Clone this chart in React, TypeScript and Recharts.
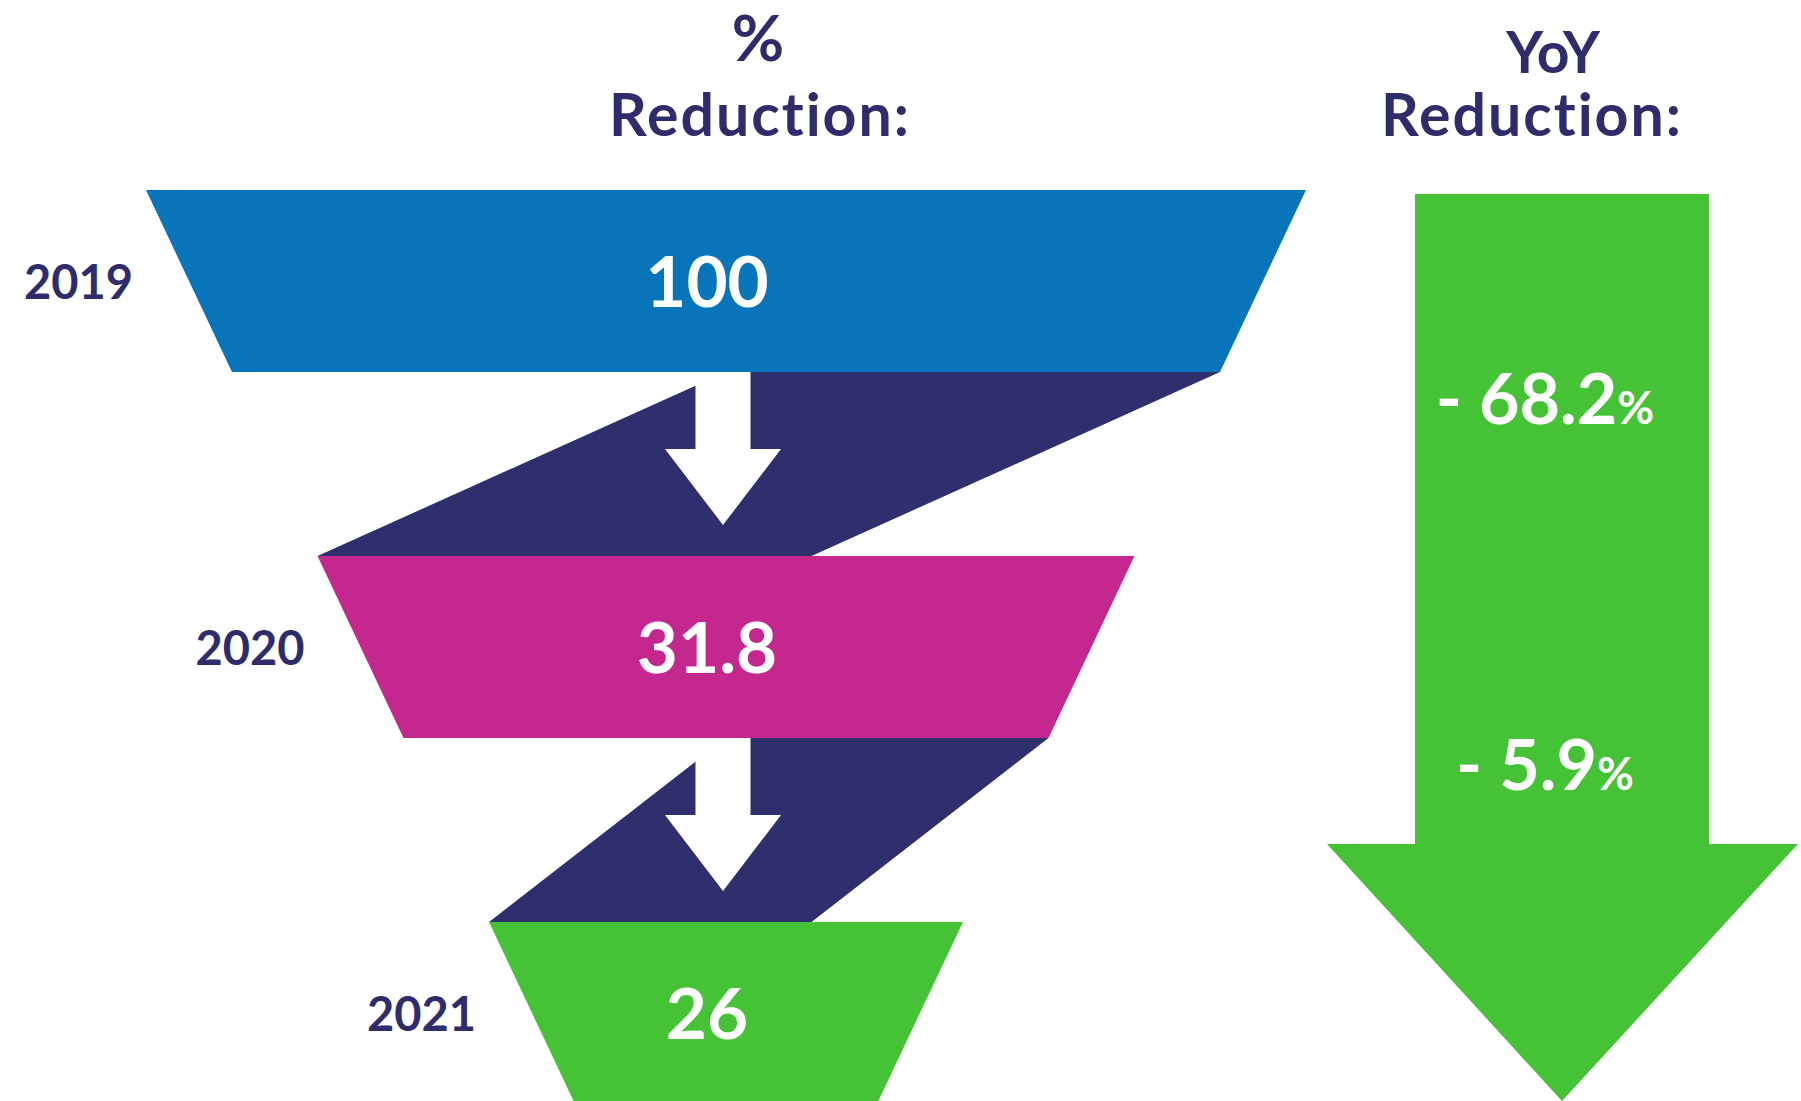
import React from 'react';
import { ComposedChart, Bar, XAxis, YAxis, Customized } from 'recharts';

// ---------- data ----------
const years = ['2019', '2020', '2021'];
const reductionValues = [100, 31.8, 26];
const yoyReductions: (number | null)[] = [null, -68.2, -5.9];
const titleLeft = ['%', 'Reduction:'];
const titleRight = ['YoY', 'Reduction:'];

// ---------- style ----------
const rowColors = ['#0874B9', '#C4288F', '#46C237'];
const NAVY = '#302F6E';
const TEXT_NAVY = '#2E2C6B';
const ARROW_GREEN = '#46C237';
const FONT = 'Lato, "Open Sans", sans-serif';
const NO_LIGA = { fontVariantLigatures: 'none' as const, fontFeatureSettings: '"liga" 0' };

const W = 1801;
const H = 1196;
const MARGIN = { top: 98, right: 495, bottom: 0, left: 146 };
const BAR_SIZE = 182;
const BAND = (H - MARGIN.top - MARGIN.bottom) / years.length;
const GAP = BAND - BAR_SIZE;
const RANK_STEP = 0.2957;
const INSET = 86;
const rankFrac = (i: number) => 1 - i * RANK_STEP;

const rows = years.map((year, i) => ({
  year,
  value: reductionValues[i],
  yoy: yoyReductions[i],
}));

const pts = (arr: number[][]) => arr.map((p) => p.join(',')).join(' ');

function FunnelRow(props: any) {
  const { x, y, width, height, index, payload } = props;
  const cx = x + width / 2;
  const half = width / 2;
  const unit = half / rankFrac(index);
  const bottom = y + height;
  const botHalf = half - INSET;
  const last = index === years.length - 1;
  const midY = y + height / 2;

  const els: any[] = [];

  if (index === 0) {
    const top = y + 4;
    const headTop = 844;
    const tipY = 1101;
    els.push(
      <polygon
        key="bigArrow"
        points={pts([
          [1415, top],
          [1709, top],
          [1709, headTop],
          [1798, headTop],
          [1562, tipY],
          [1327, headTop],
          [1415, headTop],
        ])}
        fill={ARROW_GREEN}
      />
    );
  }

  els.push(
    <polygon
      key="trap"
      points={pts([
        [cx - half, y],
        [cx + half, y],
        [cx + botHalf, bottom],
        [cx - botHalf, bottom],
      ])}
      fill={rowColors[index]}
    />
  );

  if (!last) {
    const nextHalf = unit * rankFrac(index + 1);
    const y1 = bottom + GAP;
    els.push(
      <polygon
        key="conn"
        points={pts([
          [cx, bottom],
          [cx + botHalf, bottom],
          [cx - nextHalf + botHalf, y1],
          [cx - nextHalf, y1],
        ])}
        fill={NAVY}
      />
    );
    const ax = cx - 3;
    els.push(
      <polygon
        key="wArrow"
        points={pts([
          [ax - 27.5, bottom],
          [ax + 27.5, bottom],
          [ax + 27.5, bottom + 77],
          [ax + 58, bottom + 77],
          [ax, bottom + 153],
          [ax - 58, bottom + 77],
          [ax - 27.5, bottom + 77],
        ])}
        fill="#FFFFFF"
      />
    );
  }

  els.push(
    <text
      key="year"
      x={cx - (half + botHalf) / 2 - 56}
      y={midY + 18}
      textAnchor="end"
      fontFamily={FONT}
      fontWeight={700}
      fontSize={47}
      fill={TEXT_NAVY}
    >
      {payload.year}
    </text>
  );

  els.push(
    <text
      key="val"
      x={cx - 19}
      y={midY + 26}
      textAnchor="middle"
      fontFamily={FONT}
      fontWeight={700}
      fontSize={71}
      fill="#FFFFFF"
    >
      {String(payload.value)}
    </text>
  );

  if (payload.yoy != null) {
    const prevBottom = y - GAP;
    els.push(
      <text
        key="yoy"
        x={1545}
        y={prevBottom + 52}
        textAnchor="middle"
        fontFamily={FONT}
        fontWeight={700}
        fontSize={70}
        fill="#FFFFFF"
      >
        <tspan>{`- ${Math.abs(payload.yoy)}`}</tspan>
        <tspan fontSize={45}>%</tspan>
      </text>
    );
  }

  return <g>{els}</g>;
}

function Titles() {
  const common = {
    fontFamily: FONT,
    fontWeight: 700,
    fill: TEXT_NAVY,
    textAnchor: 'middle' as const,
    style: NO_LIGA,
  };
  return (
    <g>
      <text {...common} x={758} y={61} fontSize={64}>
        {titleLeft[0]}
      </text>
      <text {...common} x={760} y={136} fontSize={59} letterSpacing={2}>
        {titleLeft[1]}
      </text>
      <text {...common} x={1553} y={73} fontSize={57}>
        {titleRight[0]}
      </text>
      <text {...common} x={1532} y={136} fontSize={59} letterSpacing={2}>
        {titleRight[1]}
      </text>
    </g>
  );
}

export default function App() {
  return (
    <div
      style={{
        position: 'fixed',
        left: 0,
        top: 0,
        width: 1801,
        height: 1101,
        overflow: 'hidden',
        background: '#FFFFFF',
      }}
    >
      <ComposedChart layout="vertical" width={W} height={H} data={rows} margin={MARGIN}>
        <XAxis type="number" domain={[-1, 1]} hide />
        <YAxis type="category" dataKey="year" hide />
        <Bar
          dataKey={(d: any) => {
            const f = rankFrac(years.indexOf(d.year));
            return [-f, f];
          }}
          barSize={BAR_SIZE}
          shape={FunnelRow}
          isAnimationActive={false}
        />
        <Customized component={<Titles />} />
      </ComposedChart>
    </div>
  );
}
